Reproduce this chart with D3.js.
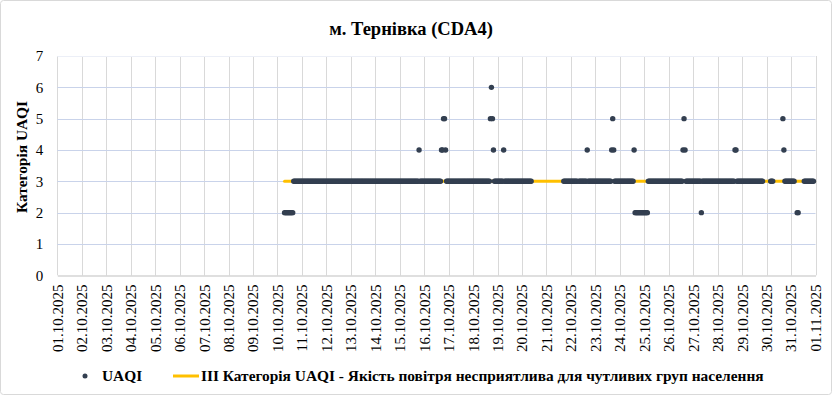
<!DOCTYPE html>
<html>
<head>
<meta charset="utf-8">
<script src="https://cdn.jsdelivr.net/npm/d3@7"></script>
<style>
  body { margin: 0; background: #fff; }
  svg { display: block; font-family: 'Liberation Serif', 'Times New Roman', serif; }
</style>
</head>
<body>
<div id="chart"></div>
<script>
// hourly UAQI category, stored as runs of equal value [from, to (inclusive), category]
const uaqiRuns = [
  ['2025-10-10 07:00', '2025-10-10 15:00', 2],
  ['2025-10-10 16:00', '2025-10-15 18:00', 3],
  ['2025-10-15 19:00', '2025-10-15 19:00', 4],
  ['2025-10-15 20:00', '2025-10-16 16:00', 3],
  ['2025-10-16 17:00', '2025-10-16 18:00', 4],
  ['2025-10-16 19:00', '2025-10-16 20:00', 5],
  ['2025-10-16 21:00', '2025-10-16 21:00', 4],
  ['2025-10-16 22:00', '2025-10-18 16:00', 3],
  ['2025-10-18 17:00', '2025-10-18 17:00', 5],
  ['2025-10-18 18:00', '2025-10-18 18:00', 6],
  ['2025-10-18 19:00', '2025-10-18 19:00', 5],
  ['2025-10-18 20:00', '2025-10-18 20:00', 4],
  ['2025-10-18 21:00', '2025-10-19 05:00', 3],
  ['2025-10-19 06:00', '2025-10-19 06:00', 4],
  ['2025-10-19 07:00', '2025-10-20 09:00', 3],
  ['2025-10-21 17:00', '2025-10-22 06:00', 3],
  ['2025-10-22 08:00', '2025-10-22 15:00', 3],
  ['2025-10-22 16:00', '2025-10-22 16:00', 4],
  ['2025-10-22 17:00', '2025-10-23 15:00', 3],
  ['2025-10-23 16:00', '2025-10-23 16:00', 4],
  ['2025-10-23 17:00', '2025-10-23 17:00', 5],
  ['2025-10-23 18:00', '2025-10-23 18:00', 4],
  ['2025-10-23 19:00', '2025-10-24 13:00', 3],
  ['2025-10-24 14:00', '2025-10-24 14:00', 4],
  ['2025-10-24 15:00', '2025-10-25 03:00', 2],
  ['2025-10-25 04:00', '2025-10-26 13:00', 3],
  ['2025-10-26 14:00', '2025-10-26 14:00', 4],
  ['2025-10-26 15:00', '2025-10-26 15:00', 5],
  ['2025-10-26 16:00', '2025-10-26 16:00', 4],
  ['2025-10-26 17:00', '2025-10-27 07:00', 3],
  ['2025-10-27 08:00', '2025-10-27 08:00', 2],
  ['2025-10-27 09:00', '2025-10-28 16:00', 3],
  ['2025-10-28 17:00', '2025-10-28 18:00', 4],
  ['2025-10-28 19:00', '2025-10-29 20:00', 3],
  ['2025-10-30 04:00', '2025-10-30 06:00', 3],
  ['2025-10-30 16:00', '2025-10-30 16:00', 5],
  ['2025-10-30 17:00', '2025-10-30 17:00', 4],
  ['2025-10-30 18:00', '2025-10-31 03:00', 3],
  ['2025-10-31 06:00', '2025-10-31 07:00', 2],
  ['2025-10-31 13:00', '2025-10-31 22:00', 3]
];

// reference line: category III across the whole period of records
const thresholdRange = ['2025-10-10 07:00', '2025-10-31 23:00'];
const thresholdValue = 3;

const axisStart = '2025-10-01 00:00';
const axisEnd = '2025-11-01 00:00';
const yTicks = [0, 1, 2, 3, 4, 5, 6, 7];

const titleText = 'м. Тернівка (CDA4)';
const yTitle = 'Категорія UAQI';
const seriesNames = ['UAQI', 'III Категорія UAQI - Якість повітря несприятлива для чутливих груп населення'];

const W = 832, H = 395;
const margin = { top: 56, right: 16, bottom: 120, left: 57.3 };
const dotColor = '#333f50';
const lineColor = '#ffc000';

const parse = d3.utcParse('%Y-%m-%d %H:%M');

// expand runs to hourly points
const points = [];
uaqiRuns.forEach(([a, b, v]) => {
  d3.utcHour.range(parse(a), d3.utcHour.offset(parse(b), 1)).forEach(t => points.push({ t, v }));
});

const x = d3.scaleUtc()
  .domain([parse(axisStart), parse(axisEnd)])
  .range([margin.left, W - margin.right - 0.5]);

const y = d3.scaleLinear()
  .domain([0, 7])
  .range([275.3, 56]);

const svg = d3.select('#chart').append('svg')
  .attr('width', W)
  .attr('height', H);

svg.append('rect')
  .attr('x', 0.5).attr('y', 0.5)
  .attr('width', W - 1).attr('height', H - 1)
  .attr('rx', 3)
  .attr('fill', '#fff')
  .attr('stroke', '#d9d9d9');

const days = d3.utcDay.range(parse(axisStart), d3.utcDay.offset(parse(axisEnd), 1));

// vertical gridlines
svg.append('g')
  .selectAll('line')
  .data(days)
  .enter().append('line')
  .attr('x1', d => Math.round(x(d)) + 0.5)
  .attr('x2', d => Math.round(x(d)) + 0.5)
  .attr('y1', y(7))
  .attr('y2', y(0))
  .attr('stroke', '#d9d9d9')
  .attr('stroke-width', 1);

// horizontal gridlines
svg.append('g')
  .selectAll('line')
  .data(yTicks.filter(d => d > 0))
  .enter().append('line')
  .attr('x1', x.range()[0])
  .attr('x2', x.range()[1])
  .attr('y1', d => Math.round(y(d)) + 0.5)
  .attr('y2', d => Math.round(y(d)) + 0.5)
  .attr('stroke', d => d === 7 ? '#eceff7' : '#c9d3ea')
  .attr('stroke-width', 1);

// x axis
const xAxis = svg.append('g')
  .attr('transform', `translate(0,${Math.round(y(0)) + 0.5})`)
  .call(d3.axisBottom(x)
    .tickValues(days)
    .tickSize(0)
    .tickFormat(d3.utcFormat('%d.%m.%Y')));
xAxis.select('.domain').attr('stroke', '#bfbfbf');
xAxis.selectAll('.tick text')
  .attr('fill', '#000')
  .style('font-family', "'Liberation Serif', serif")
  .style('font-size', '15px')
  .attr('text-anchor', 'end')
  .attr('transform', 'translate(0,9) rotate(-90)')
  .attr('x', 0)
  .attr('y', 0)
  .attr('dy', '0.33em');

// y axis
const yAxis = svg.append('g')
  .attr('transform', `translate(${x.range()[0]},0)`)
  .call(d3.axisLeft(y)
    .tickValues(yTicks)
    .tickSize(0)
    .tickPadding(14)
    .tickFormat(d3.format('d')));
yAxis.select('.domain').remove();
yAxis.selectAll('.tick text')
  .attr('fill', '#000')
  .style('font-family', "'Liberation Serif', serif")
  .style('font-size', '15px');

// threshold line
const tr = thresholdRange.map(parse);
svg.append('path')
  .datum(tr)
  .attr('d', d3.line().x(d => x(d)).y(() => y(thresholdValue)))
  .attr('stroke', lineColor)
  .attr('stroke-width', 3)
  .attr('stroke-linecap', 'round')
  .attr('fill', 'none');

// UAQI points
svg.append('g')
  .selectAll('circle')
  .data(points)
  .enter().append('circle')
  .attr('cx', d => x(d.t))
  .attr('cy', d => y(d.v))
  .attr('r', 2.7)
  .attr('fill', dotColor);

// title
svg.append('text')
  .attr('x', 411)
  .attr('y', 35)
  .attr('text-anchor', 'middle')
  .style('font-size', '18.5px')
  .style('font-weight', 'bold')
  .text(titleText);

// y title
svg.append('text')
  .attr('transform', 'translate(27,157) rotate(-90)')
  .attr('text-anchor', 'middle')
  .style('font-size', '15.4px')
  .style('font-weight', 'bold')
  .text(yTitle);

// legend
const lg = svg.append('g').attr('transform', 'translate(0,376)');
lg.append('circle')
  .attr('cx', 85).attr('cy', 0).attr('r', 2.5)
  .attr('fill', dotColor);
lg.append('text')
  .attr('x', 102).attr('y', 0).attr('dy', '0.35em')
  .style('font-size', '15.4px').style('font-weight', 'bold')
  .text(seriesNames[0]);
lg.append('line')
  .attr('x1', 173).attr('x2', 199)
  .attr('y1', 0).attr('y2', 0)
  .attr('stroke', lineColor).attr('stroke-width', 3);
lg.append('text')
  .attr('x', 201).attr('y', 0).attr('dy', '0.35em')
  .style('font-size', '15.4px').style('font-weight', 'bold')
  .text(seriesNames[1]);
</script>
</body>
</html>
